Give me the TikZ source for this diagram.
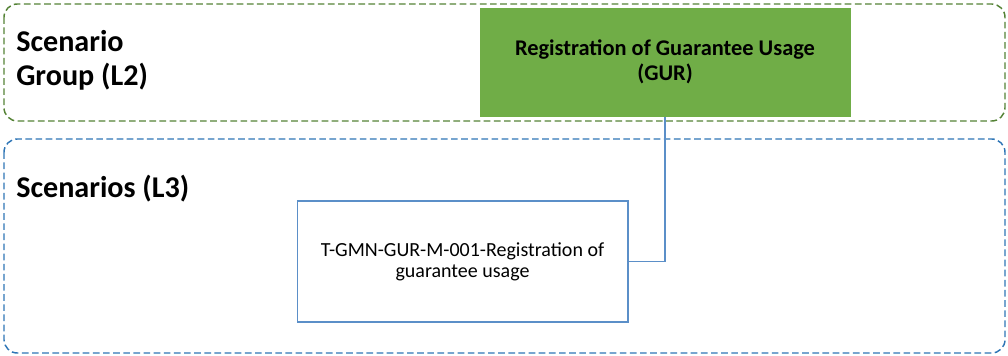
\documentclass[tikz,border=0pt]{standalone}
\usepackage{fontspec}
\setmainfont{Carlito}
\usetikzlibrary{positioning}
\definecolor{grpgreen}{HTML}{548235}
\definecolor{scnblue}{HTML}{2E75B6}
\definecolor{boxgreen}{HTML}{70AD47}
\definecolor{boxblue}{HTML}{5B8FC8}
\tikzset{
  x=0.75pt, y=-0.75pt,
  groupframe/.style={rounded corners=10pt, line width=1.1pt, dash pattern=on 5pt off 2.6pt},
  grouplabel/.style={font=\bfseries\fontsize{22.6}{25.5}\selectfont, align=left, inner sep=0pt, anchor=base west},
  l2box/.style={fill=boxgreen, draw=white, line width=0.6pt, minimum width=279pt, minimum height=82.5pt, inner sep=0pt, align=center,
    font=\bfseries\fontsize{16.8}{18.75}\selectfont},
  l3box/.style={draw=boxblue, line width=1pt, fill=white, minimum width=248pt, minimum height=90.75pt, inner sep=0pt, align=center,
    font=\fontsize{15}{15.75}\selectfont},
  link/.style={draw=boxblue, line width=1.1pt}
}
\begin{document}
\begin{tikzpicture}
\useasboundingbox (0,0) rectangle (1008,356);
\draw[groupframe, draw=grpgreen] (4,4) rectangle (1005,121);
\draw[groupframe, draw=scnblue] (4,139) rectangle (1005,353);
\node[grouplabel] (l2lbl) at (16,86) {Scenario\\Group (L2)};
\node[grouplabel] (l3lbl) at (16,198) {Scenarios (L3)};
\node[l2box] (gur) at (665,62) {Registration of Guarantee Usage\\(GUR)};
\node[l3box] (gur001) at (462.5,261.5) {T-GMN-GUR-M-001-Registration of\\guarantee usage};
\draw[link] (gur.south) |- (gur001.east);
\end{tikzpicture}
\end{document}
